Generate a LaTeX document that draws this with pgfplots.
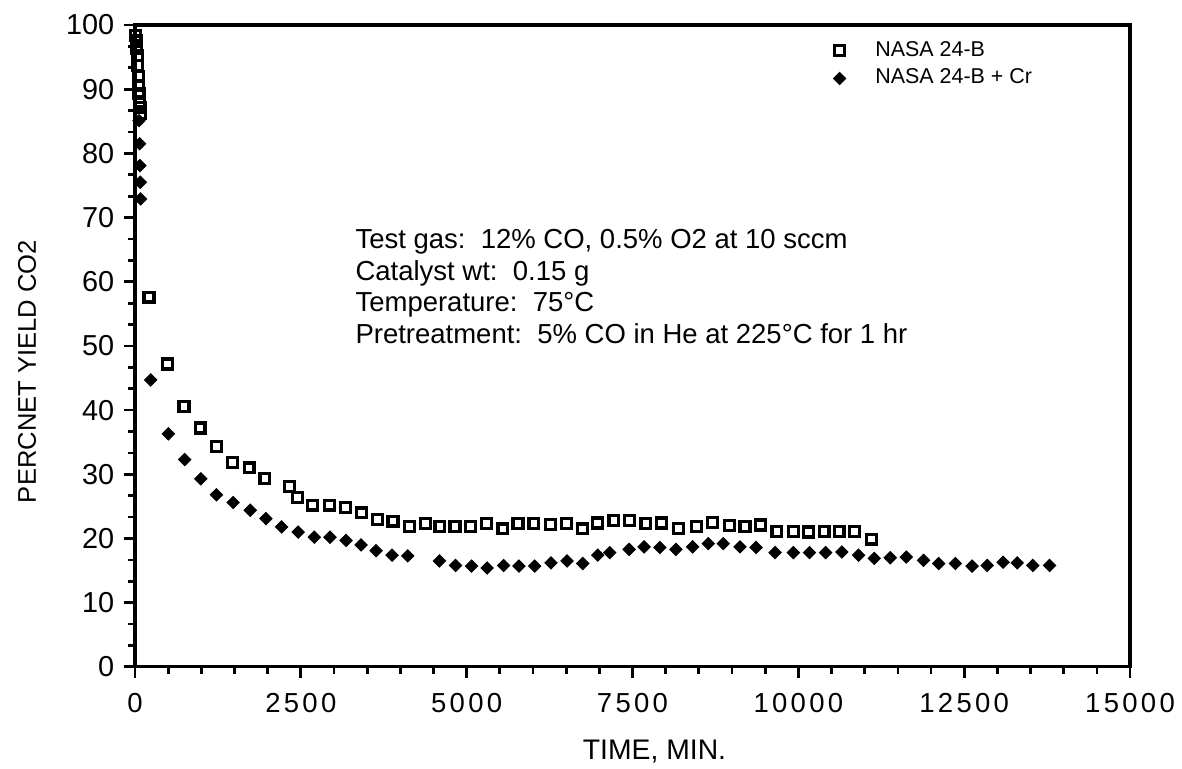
\documentclass[border=0pt]{standalone}
\usepackage{fontspec}
\setmainfont{Liberation Sans}
\newfontfamily\spacedfont[LetterSpace=12]{Liberation Sans}
\usepackage{pgfplots}
\pgfplotsset{compat=1.18}
\pgfplotstableread{
x y
10 98.4
20 97.5
25 96.3
35 95.2
40 93.7
50 92.0
55 90.6
60 89.3
70 88.0
75 87.2
80 86.2
211 57.6
488 47.2
740 40.6
982 37.2
1228 34.3
1469 31.8
1721 31.0
1958 29.3
2325 28.1
2451 26.4
2677 25.2
2929 25.2
3171 24.8
3417 24.0
3659 23.0
3891 22.7
4137 21.9
4379 22.3
4596 21.9
4824 21.9
5059 21.9
5296 22.3
5546 21.5
5773 22.3
6013 22.3
6262 22.2
6504 22.3
6742 21.5
6969 22.4
7218 22.8
7459 22.8
7701 22.3
7938 22.4
8189 21.6
8467 21.9
8708 22.5
8959 22.0
9196 21.9
9433 22.1
9675 21.1
9925 21.1
10152 21.0
10389 21.1
10615 21.1
10847 21.1
11099 19.9
}\nasa
\pgfplotstableread{
x y
60 85.1
70 81.5
75 78.1
80 75.5
85 72.9
237 44.7
503 36.3
750 32.3
992 29.3
1228 26.8
1480 25.6
1737 24.4
1974 23.1
2210 21.8
2461 21.0
2703 20.2
2940 20.2
3182 19.7
3408 19.0
3635 18.1
3876 17.4
4112 17.3
4590 16.5
4832 15.8
5074 15.7
5308 15.4
5557 15.8
5788 15.7
6025 15.7
6271 16.2
6513 16.5
6750 16.1
6976 17.4
7157 17.8
7449 18.3
7675 18.7
7912 18.6
8154 18.3
8406 18.7
8642 19.2
8868 19.2
9120 18.7
9362 18.6
9649 17.8
9925 17.8
10167 17.8
10411 17.8
10656 17.9
10907 17.4
11144 16.9
11385 17.0
11627 17.1
11888 16.6
12115 16.1
12367 16.1
12619 15.7
12846 15.8
13087 16.3
13299 16.2
13534 15.8
13786 15.8
}\nasacr
\begin{document}
\begin{tikzpicture}
\begin{axis}[name=ax, scale only axis, width=362pt, height=233.5pt,
  xmin=0, xmax=15000, ymin=0, ymax=100, clip=false,
  axis line style={line width=1.15pt},
  xtick={0,2500,...,15000}, minor x tick num=4,
  ytick={0,10,...,100}, minor y tick num=2,
  tick align=outside, xtick pos=bottom, ytick pos=left,
  major tick length=4pt, minor tick length=2.5pt,
  every tick/.style={line width=1pt, black},
  scaled x ticks=false,
  /pgf/number format/assume math mode=true,
  /pgf/number format/1000 sep={},
  xticklabel style={font=\spacedfont\fontsize{10}{12}\selectfont, yshift=-2pt},
  yticklabel style={font=\fontsize{10.5}{12}\selectfont},
  xlabel={TIME, MIN.}, ylabel={PERCNET YIELD CO2},
  xlabel style={font=\fontsize{10.3}{12}\selectfont, yshift=-3pt, xshift=8pt},
  ylabel style={font=\fontsize{9.3}{11}\selectfont, at={(ticklabel cs:0.46)}},
  ylabel shift=4pt,
  legend style={draw=none, fill=none, at={(0.691,0.993)}, anchor=north west,
    font=\fontsize{7.8}{9}\selectfont, row sep=-0.8pt},
  legend cell align=left,
  legend image code/.code={\draw[#1] plot coordinates {(0pt,0pt)}; \path[draw=none, fill=none] (-3pt,-0.1pt) rectangle (11pt,0.1pt);},
]
\addplot[only marks, mark=square, mark size=1.8pt, mark options={line width=1.2pt, black}] table {\nasa};
\addlegendentry{NASA 24-B}
\addplot[only marks, mark=square*, mark size=1.55pt, mark options={rotate=45, fill=black, draw=black, line width=0.4pt}] table {\nasacr};
\addlegendentry{NASA 24-B + Cr}
\node[anchor=north west, align=left, font=\fontsize{10}{11.6}\selectfont, inner sep=0pt] at (axis cs:3317,68.3)
 {Test gas:\ \ 12\% CO, 0.5\% O2 at 10 sccm\\Catalyst wt:\ \ 0.15 g\\Temperature:\ \ 75°C\\Pretreatment:\ \ 5\% CO in He at 225°C for 1 hr};
\end{axis}
\pgfresetboundingbox
\path ([shift={(-49.1pt,-37.1pt)}]ax.south west) rectangle ([shift={(18.9pt,9.1pt)}]ax.north east);
\end{tikzpicture}
\end{document}
